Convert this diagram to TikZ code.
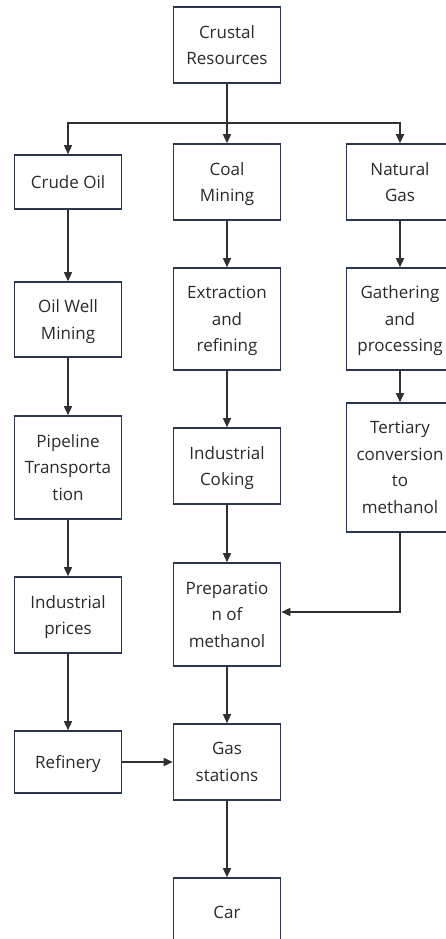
\documentclass[tikz,border=0pt]{standalone}
\usepackage{fontspec}
\setmainfont{Open Sans}
\usetikzlibrary{arrows.meta}
\definecolor{boxc}{HTML}{2B3552}
\definecolor{linec}{HTML}{303030}
\definecolor{txtc}{HTML}{2A2A2A}
\begin{document}
\begin{tikzpicture}[x=1pt,y=-1pt,
  box/.style={draw=boxc,line width=1.6pt,fill=white,minimum width=107pt,inner sep=0pt,
    align=center,text=txtc,text depth=0pt,font=\fontsize{17}{26.5}\selectfont},
  arr/.style={draw=linec,line width=1.5pt,-{Triangle[length=9pt,width=8pt]}}]
\useasboundingbox (0,0) rectangle (446,939);
\clip (0,0) rectangle (446,939);
\fill[white] (0,0) rectangle (446,939);
\node[box,minimum height=76pt] (cr) at (227,45) {Crustal\\Resources};
\node[box,minimum height=54pt] (co) at (68,182) {Crude Oil};
\node[box,minimum height=76pt] (cm) at (227,182) {Coal\\Mining};
\node[box,minimum height=76pt] (ng) at (400,182) {Natural\\Gas};
\node[box,minimum height=75pt] (ow) at (68,319.5) {Oil Well\\Mining};
\node[box,minimum height=102pt] (er) at (227,319) {Extraction\\and\\refining};
\node[box,minimum height=102pt] (gp) at (400,319) {Gathering\\and\\processing};
\node[box,minimum height=103pt] (pt) at (68,467.5) {Pipeline\\Transporta\\tion};
\node[box,minimum height=76pt] (ic) at (227,466) {Industrial\\Coking};
\node[box,minimum height=129pt] (tc) at (400,467.5) {Tertiary\\conversion\\to\\methanol};
\node[box,minimum height=76pt] (ip) at (68,615) {Industrial\\prices};
\node[box,minimum height=103pt] (pm) at (227,614.5) {Preparatio\\n of\\methanol};
\node[box,minimum height=62pt] (rf) at (68,762) {Refinery};
\node[box,minimum height=76pt] (gs) at (227,762) {Gas\\stations};
\node[box,minimum height=68pt] (car) at (227,912) {Car};
\draw[draw=linec,line width=1.5pt] (cr.south) -- ++(0,39) coordinate (br);
\draw[arr] (br) -- (cm.north);
\draw[arr] (br) -| (co.north);
\draw[arr] (br) -| (ng.north);
\draw[arr] (co) -- (ow);
\draw[arr] (ow) -- (pt);
\draw[arr] (pt) -- (ip);
\draw[arr] (ip) -- (rf);
\draw[arr] (rf) -- (gs);
\draw[arr] (cm) -- (er);
\draw[arr] (er) -- (ic);
\draw[arr] (ic) -- (pm);
\draw[arr] (pm) -- (gs);
\draw[arr] (gs) -- (car);
\draw[arr] (ng) -- (gp);
\draw[arr] (gp) -- (tc);
\draw[arr] (tc.south) |- ([yshift=2.5pt]pm.east);
\end{tikzpicture}
\end{document}
